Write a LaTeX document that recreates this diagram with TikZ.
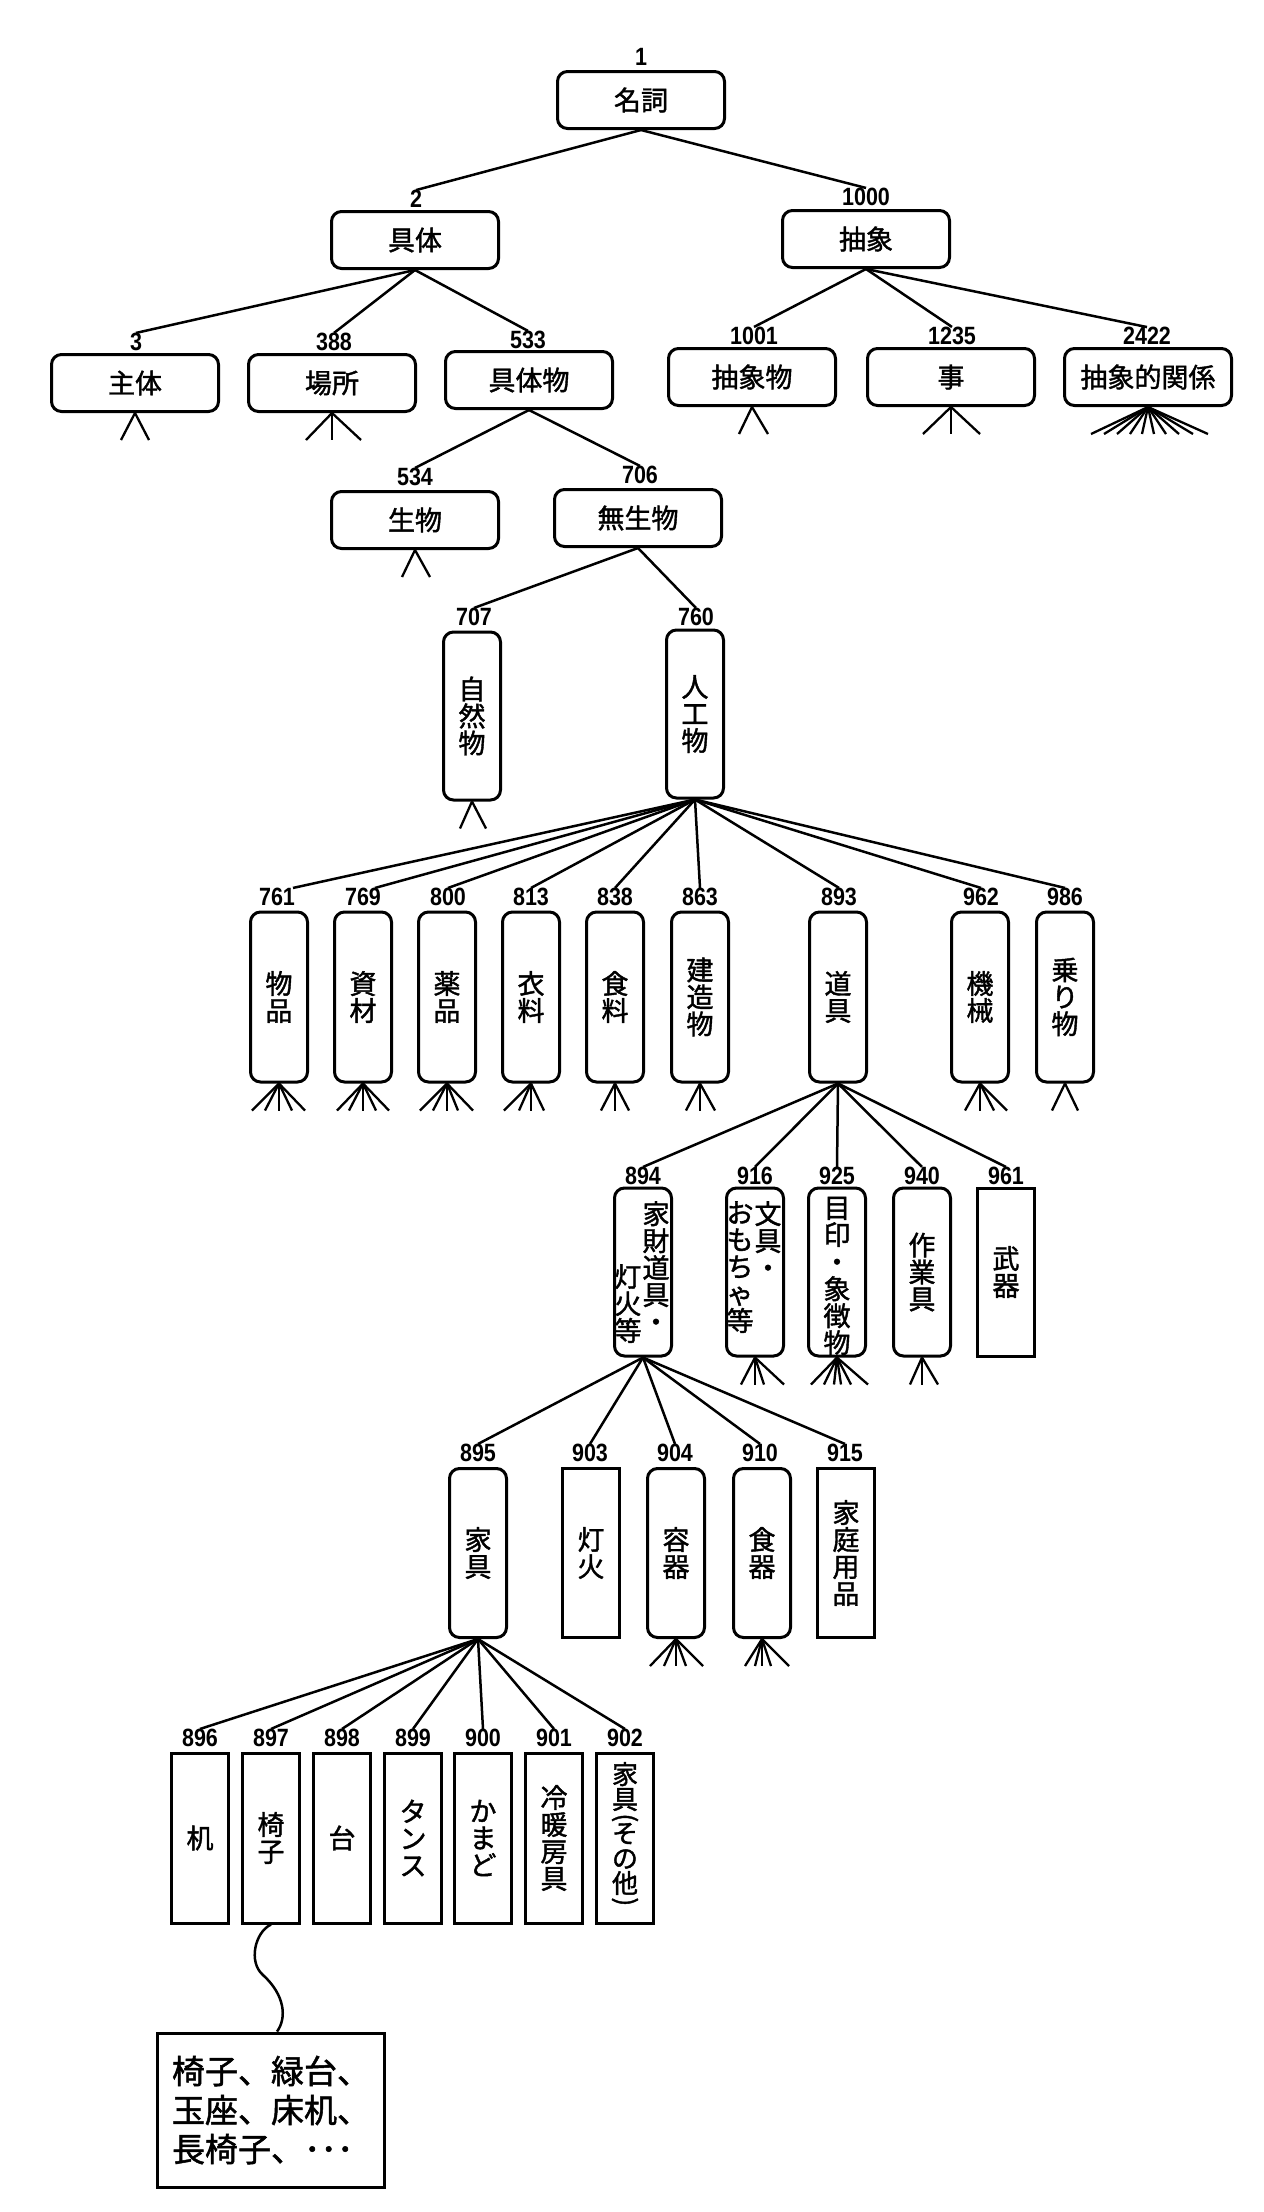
\documentclass[tikz,border=0pt]{standalone}
\usepackage{fontspec}
\usepackage{graphicx}
\newfontfamily\jpfont[FakeBold=1.5]{Noto Sans CJK JP}
\newfontfamily\numfont[FakeStretch=0.86]{Liberation Sans}
\newcommand{\fan}[2]{\foreach \dd in {#2} \draw[stubline] (#1.south) -- ++(\dd,27);}
\newcommand{\vlparen}{\rotatebox[origin=c]{-90}{(}}
\newcommand{\vrparen}{\rotatebox[origin=c]{-90}{)}}
\tikzset{
  boxbase/.style={draw, line width=3pt, inner sep=0pt, align=center,
    font=\jpfont\fontsize{27}{27}\selectfont},
  rbox/.style={boxbase, rounded corners=10pt},
  hbox/.style={rbox, minimum width=167pt, minimum height=57pt},
  vbox/.style={rbox, minimum width=57pt, minimum height=170pt},
  vsbox/.style={boxbase, minimum width=57pt, minimum height=170pt},
  vtxt/.style={inner sep=0pt, align=center, font=\jpfont\fontsize{27}{27}\selectfont},
  lbl/.style={inner sep=0pt, font=\numfont\bfseries\fontsize{25}{25}\selectfont},
  link/.style={line width=2.5pt},
  stubline/.style={line width=2.3pt},
  exbox/.style={draw, line width=3pt, inner sep=0pt, align=left,
    minimum width=227pt, minimum height=154pt,
    font=\jpfont\fontsize{33}{39}\selectfont}
}
\begin{document}
\begin{tikzpicture}[x=1pt,y=-1pt]
\useasboundingbox (0,0) rectangle (1264,2212);
% Row A
\node[lbl] (l1) at (641,57) {1};
\node[hbox] (n1) at (641,100) {名詞};
% Row B
\node[lbl] (l2) at (416,199) {2};
\node[hbox] (n2) at (415,240) {具体};
\node[lbl] (l1000) at (866,197) {1000};
\node[hbox] (n1000) at (866,239) {抽象};
% Row C
\node[lbl] (l3) at (136,342) {3};
\node[hbox] (n3) at (135,383) {主体};
\node[lbl] (l388) at (334,342) {388};
\node[hbox] (n388) at (332,383) {場所};
\node[lbl] (l533) at (528,340) {533};
\node[hbox] (n533) at (529,380) {具体物};
\node[lbl] (l1001) at (754,336) {1001};
\node[hbox] (n1001) at (752,377) {抽象物};
\node[lbl] (l1235) at (952,336) {1235};
\node[hbox] (n1235) at (951,377) {事};
\node[lbl] (l2422) at (1147,336) {2422};
\node[hbox] (n2422) at (1148,377) {抽象的関係};
% Row D
\node[lbl] (l534) at (415,477) {534};
\node[hbox] (n534) at (415,520) {生物};
\node[lbl] (l706) at (640,475) {706};
\node[hbox] (n706) at (638,518) {無生物};
% Row E
\node[lbl] (l707) at (474,617) {707};
\node[vbox, minimum height=168pt] (n707) at (472,716) {自\\然\\物};
\node[lbl] (l760) at (696,617) {760};
\node[vbox, minimum height=168pt] (n760) at (695,714) {人\\工\\物};
% Row F
\node[lbl] (l761) at (277,897) {761};
\node[vbox] (n761) at (279,997) {物\\品};
\node[lbl] (l769) at (363,897) {769};
\node[vbox] (n769) at (363,997) {資\\材};
\node[lbl] (l800) at (448,897) {800};
\node[vbox] (n800) at (447,997) {薬\\品};
\node[lbl] (l813) at (531,897) {813};
\node[vbox] (n813) at (531,997) {衣\\料};
\node[lbl] (l838) at (615,897) {838};
\node[vbox] (n838) at (615,997) {食\\料};
\node[lbl] (l863) at (700,897) {863};
\node[vbox] (n863) at (700,997) {建\\造\\物};
\node[lbl] (l893) at (839,897) {893};
\node[vbox] (n893) at (838,997) {道\\具};
\node[lbl] (l962) at (981,897) {962};
\node[vbox] (n962) at (980,997) {機\\械};
\node[lbl] (l986) at (1065,897) {986};
\node[vbox] (n986) at (1065,997) {乗\\り\\物};
% Row G
\node[lbl] (l894) at (643,1176) {894};
\node[vbox, minimum height=168pt] (n894) at (643,1272) {};
\node[vtxt, anchor=north] (t894a) at (656,1201) {家\\財\\道\\具\\・};
\node[vtxt, anchor=north] (t894b) at (628,1264) {灯\\火\\等};
\node[lbl] (l916) at (755,1176) {916};
\node[vbox, minimum height=168pt] (n916) at (755,1272) {};
\node[vtxt, anchor=north] (t916a) at (768,1201) {文\\具\\・};
\node[vtxt, anchor=north] (t916b) at (740,1201) {お\\も\\ち\\ゃ\\等};
\node[lbl] (l925) at (837,1176) {925};
\node[vbox, minimum height=168pt] (n925) at (837,1272) {};
\node[vtxt] (t925) at (837,1276) {目\\印\\・\\象\\徴\\物};
\node[lbl] (l940) at (922,1176) {940};
\node[vbox, minimum height=168pt] (n940) at (922,1272) {作\\業\\具};
\node[lbl] (l961) at (1006,1176) {961};
\node[vsbox, minimum height=168pt] (n961) at (1006,1272) {武\\器};
% Row H
\node[lbl] (l895) at (478,1453) {895};
\node[vbox, minimum height=169pt] (n895) at (478,1553) {家\\具};
\node[lbl] (l903) at (590,1453) {903};
\node[vsbox, minimum height=169pt] (n903) at (591,1553) {灯\\火};
\node[lbl] (l904) at (675,1453) {904};
\node[vbox, minimum height=169pt] (n904) at (676,1553) {容\\器};
\node[lbl] (l910) at (760,1453) {910};
\node[vbox, minimum height=169pt] (n910) at (762,1553) {食\\器};
\node[lbl] (l915) at (845,1453) {915};
\node[vsbox, minimum height=169pt] (n915) at (846,1553) {家\\庭\\用\\品};
% Row I
\node[lbl] (l896) at (200,1738) {896};
\node[vsbox] (n896) at (200,1838) {机};
\node[lbl] (l897) at (271,1738) {897};
\node[vsbox] (n897) at (271,1838) {椅\\子};
\node[lbl] (l898) at (342,1738) {898};
\node[vsbox] (n898) at (342,1838) {台};
\node[lbl] (l899) at (413,1738) {899};
\node[vsbox] (n899) at (413,1838) {タ\\ン\\ス};
\node[lbl] (l900) at (483,1738) {900};
\node[vsbox] (n900) at (483,1838) {か\\ま\\ど};
\node[lbl] (l901) at (554,1738) {901};
\node[vsbox] (n901) at (554,1838) {冷\\暖\\房\\具};
\node[lbl] (l902) at (625,1738) {902};
\node[vsbox] (n902) at (625,1838) {};
\node[vtxt, font=\jpfont\fontsize{26}{25}\selectfont] (t902) at (625,1836) {家\\具\\[-8pt]\vlparen\\[-8pt]そ\\の\\他\\[-8pt]\vrparen};
% examples box
\node[exbox] (ex) at (271,2110) {椅子、緑台、\\玉座、床机、\\長椅子、･･･};
% connectors
\draw[link] (n1.south) -- (l2.north);
\draw[link] (n1.south) -- (l1000.north);
\foreach \nd in {l3,l388,l533} \draw[link] (n2.south) -- (\nd.north);
\foreach \nd in {l1001,l1235,l2422} \draw[link] (n1000.south) -- (\nd.north);
\foreach \nd in {l534,l706} \draw[link] (n533.south) -- (\nd.north);
\foreach \nd in {l707,l760} \draw[link] (n706.south) -- (\nd.north);
\draw[link] (n760.south) -- ([xshift=16pt]l761.north);
\draw[link] (n760.south) -- ([xshift=12pt]l769.north);
\foreach \nd in {l800,l813,l838,l863,l893,l962,l986} \draw[link] (n760.south) -- (\nd.north);
\foreach \nd in {l894,l916,l925,l940,l961} \draw[link] (n893.south) -- (\nd.north);
\foreach \nd in {l895,l903,l904,l910,l915} \draw[link] (n894.south) -- (\nd.north);
\foreach \nd in {l896,l897,l898,l899,l900,l901,l902} \draw[link] (n895.south) -- (\nd.north);
\draw[link] (n897.south) .. controls (255,1932) and (248,1962) .. (263,1975) .. controls (285,1995) and (287,2018) .. ([xshift=6pt]ex.north);
% stubs
\fan{n3}{-14,14}
\fan{n388}{-26,0,29}
\fan{n1001}{-13,16}
\fan{n1235}{-28,0,29}
\fan{n2422}{-57,-44,-31,-18,-6,6,18,31,45,60}
\fan{n534}{-13,15}
\fan{n707}{-12,14}
\fan{n761}{-27,-14,0,13,26}
\fan{n769}{-26,-14,0,13,26}
\fan{n800}{-27,-14,0,11,26}
\fan{n813}{-27,-12,0,13}
\fan{n838}{-14,0,14}
\fan{n863}{-14,0,15}
\fan{n962}{-15,0,14,27}
\fan{n986}{-13,13}
\fan{n916}{-14,0,9,29}
\fan{n925}{-26,-13,-3,4,14,31}
\fan{n940}{-12,0,16}
\fan{n904}{-26,-12,0,10,27}
\fan{n910}{-17,-7,0,9,27}
\end{tikzpicture}
\end{document}
